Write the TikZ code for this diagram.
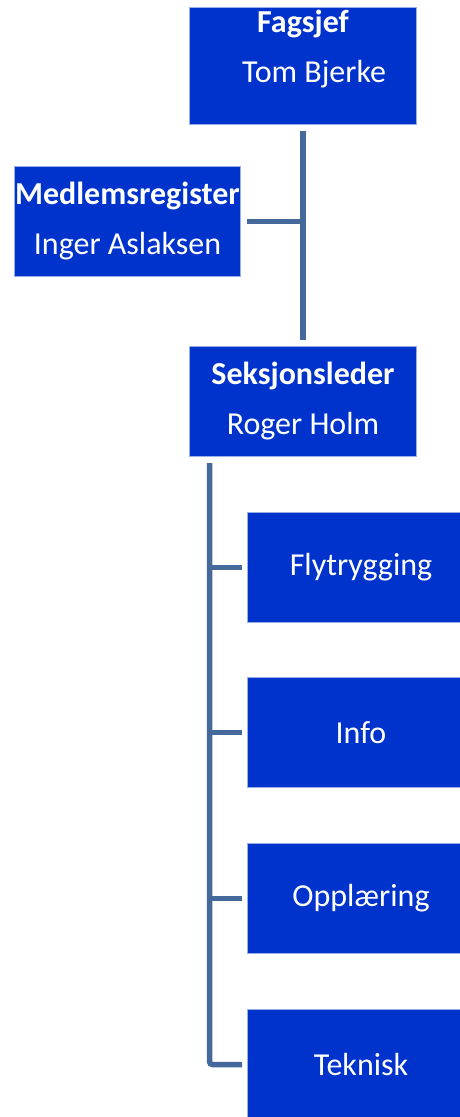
\documentclass[tikz,border=0pt]{standalone}
\usepackage{fontspec}
\setmainfont{Carlito}
\usetikzlibrary{positioning}
\definecolor{unitblue}{RGB}{0,51,204}
\definecolor{unitedge}{RGB}{150,175,230}
\definecolor{linkblue}{RGB}{68,105,154}
\begin{document}
\begin{tikzpicture}[
		x=1pt, y=1pt,
		unit/.style={draw=unitedge, line width=0.8pt, fill=unitblue, text=white, inner sep=0pt,
			align=center, minimum width=227.2pt, minimum height=110.2pt, font=\fontsize{32}{50}\selectfont},
		link/.style={draw=linkblue, line width=5.5pt},
	]
		\clip (0,0) rectangle (460,-1117);
		\node (fag) [unit, minimum height=117.2pt] at (303,-66) {};
		\node (fagtxt) [text=white, align=center, inner sep=0pt, font=\fontsize{32}{50}\selectfont]
			at ([yshift=-42pt]fag.north) {\textbf{Fagsjef}\\\hspace*{22pt}Tom Bjerke};
		\node (med) [unit, minimum width=226.2pt] at (127.5,-221.5) {\textbf{Medlemsregister}\\Inger Aslaksen};
		\node (seks) [unit, below=221pt of fag] {\textbf{Seksjonsleder}\\Roger Holm};
		
		\node (fly) [unit, anchor=north west, below right=55pt and 58pt of seks.south west] {Flytrygging};
		\node (info) [unit, below=54pt of fly] {Info};
		\node (opp) [unit, below=55pt of info] {Opplæring};
		\node (tek) [unit, below=55pt of opp] {Teknisk};
		
		\draw[link, shorten <=6pt, shorten >=6pt] (fag) -- (seks);
		\draw[link, shorten <=6pt] (med.east) -- (med.east -| fag.south);
		
		\coordinate (spine) at ([xshift=20.5pt, yshift=-6pt]seks.south west);
		\draw[link, rounded corners=3pt] (spine) |- ([xshift=-5pt]tek.west);
		\foreach \sub in {fly, info, opp}
			\draw[link] (\sub.west -| spine) -- ([xshift=-5pt]\sub.west);
	\end{tikzpicture}
\end{document}
